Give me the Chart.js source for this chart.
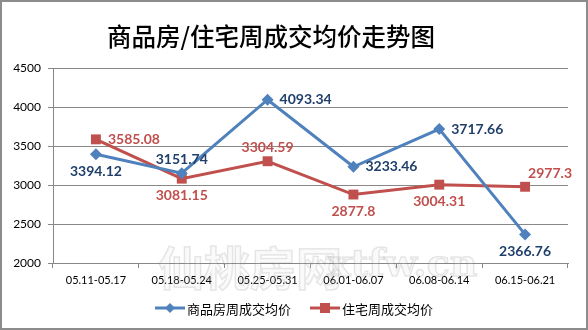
<!DOCTYPE html>
<html>
<head>
<meta charset="utf-8">
<script src="https://cdn.jsdelivr.net/npm/chart.js@4"></script>
<style>
  html, body { margin: 0; padding: 0; background: #fff; }
  #wrap { width: 588px; height: 330px; }
</style>
</head>
<body>
<div id="wrap"><canvas id="trend" width="588" height="330"></canvas></div>
<script>
const weeks = ['05.11-05.17', '05.18-05.24', '05.25-05.31', '06.01-06.07', '06.08-06.14', '06.15-06.21'];
const shangpinfang = [3394.12, 3151.74, 4093.34, 3233.46, 3717.66, 2366.76];
const zhuzhai = [3585.08, 3081.15, 3304.59, 2877.8, 3004.31, 2977.3];
const seriesNames = ['商品房周成交均价', '住宅周成交均价'];
const yTicks = [2000, 2500, 3000, 3500, 4000, 4500];

const BLUE = '#4F81BD';
const RED = '#C0504D';

// where each value label sits relative to its point
const labelPlace = [
    ['below', 'above', 'right', 'right', 'right', 'below'],
    ['right', 'below', 'above', 'below', 'below', 'aboveRight']
];

const decor = {
    id: 'decor',
    beforeDraw(chart) {
        const ctx = chart.ctx;
        ctx.save();
        ctx.fillStyle = '#fff';
        ctx.fillRect(0, 0, chart.width, chart.height);
        ctx.fillStyle = '#000';
        ctx.font = '500 24.5px "Noto Sans CJK SC"';
        ctx.textAlign = 'center';
        ctx.textBaseline = 'middle';
        ctx.fillText('商品房/住宅周成交均价走势图', 271, 37);
        ctx.restore();
    },
    afterDatasetsDraw(chart) {
        const ctx = chart.ctx;
        ctx.save();
        // faint watermark
        ctx.globalAlpha = 0.15;
        ctx.strokeStyle = '#666';
        ctx.lineWidth = 1.5;
        ctx.fillStyle = '#ddd';
        ctx.font = 'bold 46px "Noto Sans CJK SC"';
        ctx.textBaseline = 'middle';
        ctx.textAlign = 'left';
        ctx.fillText('仙桃房网', 158, 268);
        ctx.strokeText('仙桃房网', 158, 268);
        ctx.font = 'bold 38px "DejaVu Serif"';
        ctx.fillText('xtfw.cn', 328, 266);
        ctx.strokeText('xtfw.cn', 328, 266);
        ctx.globalAlpha = 1;

        // value labels
        ctx.font = 'bold 14px Lato';
        ctx.textBaseline = 'middle';
        chart.data.datasets.forEach((ds, di) => {
            const meta = chart.getDatasetMeta(di);
            ctx.fillStyle = di === 0 ? '#1F3F6A' : RED;
            meta.data.forEach((pt, i) => {
                const txt = String(ds.data[i]);
                const place = labelPlace[di][i];
                let x = pt.x, y = pt.y;
                if (place === 'below') { ctx.textAlign = 'center'; y += 17; }
                else if (place === 'above') { ctx.textAlign = 'center'; y -= 14; }
                else if (place === 'right') { ctx.textAlign = 'left'; x += 12; }
                else { ctx.textAlign = 'left'; x += 3; y -= 13; }
                ctx.fillText(txt, x, y);
            });
        });

        // legend
        const ly = 308;
        const items = [[155, BLUE, 'rectRot'], [310, RED, 'rect']];
        ctx.font = '13px "Noto Sans CJK SC"';
        ctx.textAlign = 'left';
        items.forEach((it, k) => {
            const [x0, col, shape] = it;
            ctx.strokeStyle = col;
            ctx.lineWidth = 3;
            ctx.beginPath();
            ctx.moveTo(x0, ly);
            ctx.lineTo(x0 + 30, ly);
            ctx.stroke();
            ctx.fillStyle = col;
            if (shape === 'rect') {
                ctx.fillRect(x0 + 10, ly - 5, 10, 10);
            } else {
                ctx.beginPath();
                ctx.moveTo(x0 + 15, ly - 5);
                ctx.lineTo(x0 + 20, ly);
                ctx.lineTo(x0 + 15, ly + 5);
                ctx.lineTo(x0 + 10, ly);
                ctx.closePath();
                ctx.fill();
            }
            ctx.fillStyle = '#000';
            ctx.fillText(seriesNames[k], x0 + 32, ly + 1);
        });

        // outer border
        ctx.strokeStyle = '#8c8c8c';
        ctx.lineWidth = 2;
        ctx.strokeRect(1, 1, chart.width - 2, chart.height - 2);
        ctx.restore();
    }
};

new Chart(document.getElementById('trend'), {
    type: 'line',
    data: {
        labels: weeks,
        datasets: [
            {
                label: seriesNames[0],
                data: shangpinfang,
                borderColor: BLUE,
                backgroundColor: BLUE,
                borderWidth: 3,
                pointStyle: 'rectRot',
                pointRadius: 6,
                pointBorderWidth: 0,
                tension: 0
            },
            {
                label: seriesNames[1],
                data: zhuzhai,
                borderColor: RED,
                backgroundColor: RED,
                borderWidth: 3,
                pointStyle: 'rect',
                pointRadius: 7,
                pointBorderWidth: 0,
                tension: 0
            }
        ]
    },
    options: {
        responsive: false,
        animation: false,
        layout: { padding: { left: 0, right: 20, top: 68, bottom: 0 } },
        plugins: {
            legend: { display: false },
            title: { display: false },
            tooltip: { enabled: false }
        },
        scales: {
            x: {
                offset: true,
                grid: { offset: true, drawOnChartArea: false, drawTicks: true, tickLength: 5, color: '#888' },
                border: { color: '#888', width: 1 },
                ticks: { color: '#000', font: { family: 'Lato', size: 11 }, padding: 6, maxRotation: 0, autoSkip: false },
                afterFit(scale) { scale.height = 67; }
            },
            y: {
                min: 2000,
                max: 4500,
                afterBuildTicks(scale) { scale.ticks = yTicks.map(v => ({ value: v })); },
                grid: { color: '#888', tickLength: 5 },
                border: { color: '#888', width: 1 },
                ticks: { color: '#000', font: { family: 'Lato', size: 12 }, padding: 7, callback: v => String(v) },
                afterFit(scale) { scale.width = 53; }
            }
        }
    },
    plugins: [decor]
});
</script>
</body>
</html>
